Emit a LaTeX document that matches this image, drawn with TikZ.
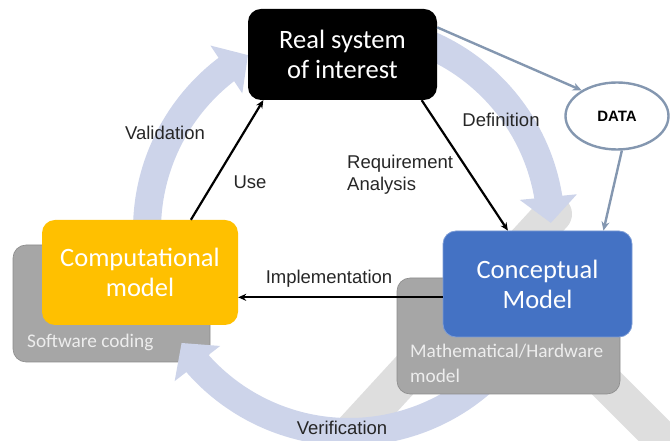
\documentclass[tikz,border=0pt]{standalone}
\usepackage{fontspec}
\setmainfont{Liberation Sans}
\newfontfamily\boxfont{Carlito}
\usepackage{tikz}
\usetikzlibrary{arrows.meta,bending,shapes.geometric}

\definecolor{ringblue}{RGB}{205,212,234}
\definecolor{chevgray}{RGB}{222,222,222}
\definecolor{backgray}{RGB}{166,166,166}
\definecolor{compyellow}{RGB}{255,192,0}
\definecolor{conceptblue}{RGB}{68,114,196}
\definecolor{datablue}{RGB}{132,151,176}
\definecolor{labelgray}{RGB}{38,38,38}

\tikzset{
  mainbox/.style={rounded corners=13pt, text=white, align=center,
    font=\boxfont\fontsize{26.5}{30}\selectfont},
  backbox/.style={fill=backgray, draw=black!45, line width=0.6pt, rounded corners=13pt},
  backtext/.style={text=black!7, align=left, inner sep=0pt,
    font=\boxfont\fontsize{19.3}{25}\selectfont},
  ring/.style={ringblue, line width=28pt, -{Triangle[width=56pt,length=26pt]}},
  conn/.style={line width=2.2pt, -{Stealth[length=8pt,width=7pt]}},
  dataconn/.style={datablue, line width=2.4pt, -{Stealth[length=9pt,width=8pt]}},
  lbl/.style={text=labelgray, inner sep=0pt, font=\fontsize{18.5}{22}\selectfont}
}

\begin{document}
\begin{tikzpicture}[x=1pt,y=1pt]
  \useasboundingbox (0,0) rectangle (670,441);
  \clip (0,0) rectangle (670,441);

  % light gray lambda behind everything
  \draw[chevgray, line width=38pt, line cap=round] (327,-19) -- (553,227);
  \draw[chevgray, line width=36pt] (498,166) -- (720,-56);

  \node[backbox, minimum width=197pt, minimum height=117pt] (soft) at (111.5,137.5) {};
  \node[backtext, anchor=west] (softlbl) at (27,99) {Software coding};

  % cycle arrows
  \draw[ring] (349,211) ++(185:202) arc (185:120:202);
  \draw[ring] (349,211) ++(75:202) arc (75:2:202);
  \draw[ring] (349,211) ++(320:202) arc (320:214:202);

  \node[backbox, minimum width=223pt, minimum height=116pt] (math) at (508.5,105) {};
  \node[backtext, anchor=west] (mathlbl) at (410,78) {Mathematical/Hardware\\model};

  \node[mainbox, fill=compyellow, minimum width=196pt, minimum height=105pt] (comp) at (140,168.5) {Computational\\model};
  \node[mainbox, fill=conceptblue, draw=conceptblue!70!white, line width=0.8pt,
    minimum width=189pt, minimum height=106pt] (concept) at (537.5,157) {Conceptual\\Model};
  \node[mainbox, fill=black, minimum width=189pt, minimum height=91pt] (real) at (342.5,386.5) {Real system\\of interest};

  \node[ellipse, draw=datablue, line width=2.4pt, minimum width=103pt, minimum height=67pt,
    font=\bfseries\fontsize{15}{18}\selectfont] (data) at (617,325) {DATA};

  % connectors
  \draw[conn] (comp.46) -- (real.210);
  \draw[conn] (real.330) -- (concept.119);
  \draw[conn] (concept.188) -- (comp.east |- concept.188);
  \draw[dataconn] (real.16) -- (data.144);
  \draw[dataconn] (data.278) -- (concept.39);

  \node[lbl] (validation) at (165,308) {Validation};
  \node[lbl] (use) at (250,259) {Use};
  \node[lbl] (definition) at (501,321) {Definition};
  \node[lbl, anchor=west, align=left] (requirement) at (347,266) {Requirement\\Analysis};
  \node[lbl] (implementation) at (329,162) {Implementation};
  \node[lbl] (verification) at (342,13) {Verification};
\end{tikzpicture}
\end{document}
